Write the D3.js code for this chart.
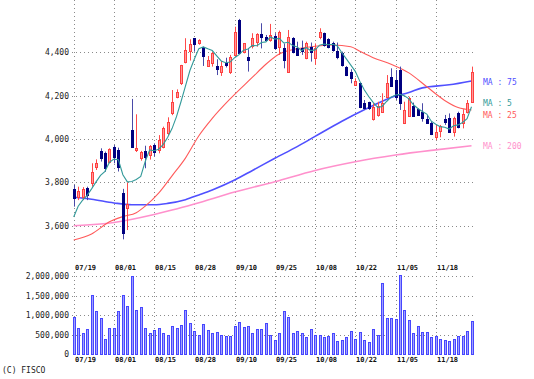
<!DOCTYPE html>
<html><head><meta charset="utf-8">
<script src="https://cdn.jsdelivr.net/npm/d3@7"></script>
<style>html,body{margin:0;padding:0;background:#fff;} svg{display:block;}</style>
</head><body><svg id="c" width="534" height="379"></svg>
<script>
// ---- data ----
const dateLabels = ["07/19","08/01","08/15","08/28","09/10","09/25","10/08","10/22","11/05","11/18"];
const dateIndex  = [0,9,18,27,36,45,54,63,72,81];
const priceTicks = [3600,3800,4000,4200,4400];
const volumeTicks = [0,500000,1000000,1500000,2000000];

const opens = [3770,3734,3734,3772,3799,3872,3946,3934,3896,3965,
3950,3750,3680,4042,3949,3914,3946,3926,3972,3949,
3965,4026,4119,4195,4257,4357,4408,4465,4442,4426,
4337,4349,4335,4311,4352,4311,4388,4549,4403,4380,
4429,4449,4483,4472,4457,4475,4426,4418,4311,4465,
4418,4418,4372,4426,4372,4469,4488,4460,4442,4408,
4395,4334,4311,4249,4257,4168,4172,4091,4111,4126,
4195,4284,4272,4318,4075,4106,4152,4137,4126,4091,
4075,4011,4038,4091,4095,4034,4122,4072,4126,4172];
const highs = [3788,3780,3778,3780,3888,3906,3957,3942,3957,3972,
3960,3770,3800,4185,4114,3945,3969,3972,3980,4018,
4057,4100,4226,4229,4342,4465,4460,4465,4460,4426,
4383,4403,4368,4360,4375,4388,4518,4554,4441,4414,
4488,4488,4534,4480,4531,4488,4500,4441,4503,4470,
4449,4454,4449,4445,4441,4511,4491,4465,4449,4445,
4403,4337,4322,4280,4257,4180,4172,4165,4172,4211,
4295,4326,4318,4334,4172,4195,4168,4142,4165,4111,
4080,4065,4065,4111,4118,4103,4126,4137,4180,4334];
const lows = [3688,3718,3718,3718,3780,3857,3896,3849,3888,3888,
3850,3537,3580,3960,3940,3900,3865,3905,3919,3934,
3957,4018,4110,4188,4249,4349,4362,4403,4435,4337,
4334,4334,4295,4291,4330,4300,4383,4395,4395,4311,
4418,4426,4418,4450,4449,4411,4388,4326,4306,4395,
4383,4388,4368,4357,4342,4460,4426,4418,4403,4368,
4334,4290,4257,4245,4142,4134,4134,4085,4103,4122,
4188,4241,4180,4134,4069,4103,4103,4106,4080,4072,
4018,3995,4008,4065,4030,4011,4049,4049,4118,4172];
const closes = [3729,3762,3770,3742,3849,3888,3911,3865,3954,3919,
3870,3568,3700,3965,3960,3942,3915,3969,3942,3995,
4049,4080,4172,4217,4342,4411,4437,4438,4457,4383,
4365,4395,4322,4337,4342,4377,4495,4395,4441,4365,
4465,4483,4469,4457,4480,4418,4495,4365,4472,4403,
4388,4405,4442,4403,4418,4495,4434,4426,4411,4377,
4342,4295,4280,4268,4149,4142,4142,4146,4152,4168,
4257,4244,4195,4165,4134,4188,4106,4111,4095,4075,
4023,4034,4060,4080,4034,4095,4057,4115,4168,4311];
const volumes = [945,680,555,640,1520,1110,920,385,665,680,
1110,1530,1235,2020,1130,1210,665,555,620,665,
535,485,725,680,750,1130,810,595,485,765,
620,535,580,485,470,470,725,820,700,725,
535,655,655,790,500,365,555,1115,960,535,
605,535,435,640,495,495,450,470,545,340,
360,435,590,390,570,375,315,640,485,1830,
930,930,895,2040,1125,885,545,715,570,570,
445,470,400,365,340,400,470,470,595,850].map(v => v * 1000);

const ma5 = [3640,3690,3718,3740,3770,3802,3832,3851,3893,3907,
3904,3835,3802,3804,3813,3827,3896,3950,3946,3953,
3974,4007,4048,4103,4172,4244,4316,4369,4417,4425,
4416,4408,4384,4360,4352,4355,4375,4389,4410,4415,
4432,4430,4445,4448,4471,4461,4464,4443,4446,4431,
4425,4407,4422,4408,4411,4433,4438,4435,4437,4429,
4398,4370,4341,4312,4267,4227,4196,4169,4146,4150,
4173,4193,4203,4206,4199,4185,4158,4141,4127,4115,
4082,4068,4057,4054,4046,4061,4065,4076,4094,4149];
// [bar index, value]
const ma25 = [[0,3534],[4,3562],[8,3618],[11,3642],[14,3660],[16,3690],[19,3750],[22,3830],[25,3912],[28,4015],[31,4095],[35,4185],[40,4285],[43,4345],[46,4392],[50,4416],[54,4428],[58,4434],[62,4426],[64,4405],[67,4375],[71,4345],[75,4305],[79,4241],[83,4178],[86,4145],[89,4134]];
const ma75 = [[0,3731],[4,3722],[9,3705],[13,3697],[18,3697],[21,3703],[25,3720],[28,3742],[31,3765],[36,3811],[40,3855],[45,3911],[50,3965],[54,4012],[60,4082],[65,4135],[67,4155],[71,4192],[75,4215],[78,4236],[84,4250],[89,4268]];
const ma200 = [[0,3600],[9,3615],[18,3652],[22,3672],[27,3700],[36,3755],[45,3803],[54,3855],[63,3895],[72,3926],[81,3950],[89,3969]];

const maLabels = ["MA : 5","MA : 25","MA : 75","MA : 200"];
const maColors = ["#339a9a","#ff5a5a","#5050ff","#ff90cc"];

// ---- scales ----
const svg = d3.select("#c");
const x = d3.scaleLinear().domain([0,89]).range([73.7,471.5]);
const px = i => Math.round(x(i));
const y = d3.scaleLinear().domain([3600,4400]).range([225.7,52.3]);
const yv = d3.scaleLinear().domain([0,2000000]).range([354.3,276.3]);
const mono = "'DejaVu Sans Mono', monospace";

// ---- grid ----
const grid = svg.append("g").attr("stroke","#8a8a8a").attr("stroke-dasharray","1,3").attr("fill","none");
priceTicks.forEach(v => grid.append("line").attr("x1",72).attr("x2",474)
  .attr("y1",Math.round(y(v))+0.5).attr("y2",Math.round(y(v))+0.5));
volumeTicks.slice(1).forEach(v => grid.append("line").attr("x1",72).attr("x2",474)
  .attr("y1",Math.round(yv(v))+0.5).attr("y2",Math.round(yv(v))+0.5));
dateIndex.forEach(i => {
  grid.append("line").attr("x1",px(i)+0.5).attr("x2",px(i)+0.5).attr("y1",0).attr("y2",260);
  grid.append("line").attr("x1",px(i)+0.5).attr("x2",px(i)+0.5).attr("y1",272).attr("y2",356);
});

// ---- axes labels ----
const yAxis = d3.axisLeft(y).tickValues(priceTicks).tickFormat(d3.format(",")).tickSize(0).tickPadding(0);
const ga = svg.append("g").attr("transform","translate(69,0)").call(yAxis);
ga.select(".domain").remove();
ga.selectAll("text").attr("font-family",mono).attr("font-size","8px").attr("fill","#222");

const vAxis = d3.axisLeft(yv).tickValues(volumeTicks).tickFormat(d3.format(",")).tickSize(0).tickPadding(0);
const gv = svg.append("g").attr("transform","translate(69,0)").call(vAxis);
gv.select(".domain").remove();
gv.selectAll("text").attr("font-family",mono).attr("font-size","8px").attr("fill","#222");

[270,362].forEach(yy => {
  svg.append("g").selectAll("text").data(dateLabels).join("text")
    .attr("x",(d,k)=>px(dateIndex[k])+1).attr("y",yy)
    .attr("font-family",mono).attr("font-size","7px").attr("font-weight","bold").attr("fill","#111")
    .text(d=>d);
});

svg.append("text").attr("x",2).attr("y",373).attr("font-family",mono).attr("font-size","8px")
  .attr("fill","#222").text("(C) FISCO");

// ---- volume bars ----
svg.append("g").selectAll("rect").data(volumes).join("rect")
  .attr("x",(d,i)=>px(i)-0.5).attr("width",2)
  .attr("y",d=>Math.round(yv(d))+0.5).attr("height",d=>Math.max(0,Math.round(yv(0))-Math.round(yv(d))))
  .attr("fill","#a0a0ff").attr("stroke","#4646ff").attr("stroke-width",1);

// ---- MA lines (long ones under candles) ----
const knotLine = d3.line().x(d=>x(d[0])).y(d=>y(d[1])).curve(d3.curveMonotoneX);
svg.append("path").datum(ma200).attr("d",knotLine).attr("fill","none").attr("stroke",maColors[3]).attr("stroke-width",1.6);
svg.append("path").datum(ma75).attr("d",knotLine).attr("fill","none").attr("stroke",maColors[2]).attr("stroke-width",1.6);
svg.append("path").datum(ma25).attr("d",knotLine).attr("fill","none").attr("stroke",maColors[1]).attr("stroke-width",1.1);

// ---- candles ----
const candles = svg.append("g");
opens.forEach((o,i) => {
  const c = closes[i], up = c >= o;
  const cx = px(i);
  candles.append("line").attr("x1",cx+0.5).attr("x2",cx+0.5)
    .attr("y1",y(highs[i])).attr("y2",y(lows[i]))
    .attr("stroke", up ? "#ff4a4a" : "#4a4aa8").attr("stroke-width",1);
  const top = Math.round(y(Math.max(o,c))), bot = Math.round(y(Math.min(o,c)));
  candles.append("rect").attr("x",cx-0.5).attr("width",2)
    .attr("y",top+0.5).attr("height",Math.max(1,bot-top))
    .attr("fill", up ? "#ff9a9a" : "#000080")
    .attr("stroke", up ? "#ff4040" : "#000080").attr("stroke-width",1);
});

// ---- MA5 ----
const idxLine = d3.line().x((d,i)=>x(i)).y(d=>y(d));
svg.append("path").datum(ma5).attr("d",idxLine).attr("fill","none").attr("stroke",maColors[0]).attr("stroke-width",1.1);

// ---- MA labels ----
const lastVals = [ma5[ma5.length-1], ma25[ma25.length-1][1], ma75[ma75.length-1][1], ma200[ma200.length-1][1]];
const labelOffset = [-4,5,1,0];
maLabels.forEach((t,k) => {
  svg.append("text").attr("x",483).attr("y",y(lastVals[k])+labelOffset[k]+3)
    .attr("font-family",mono).attr("font-size","8px").attr("fill",maColors[k]).text(t);
});
</script></body></html>
